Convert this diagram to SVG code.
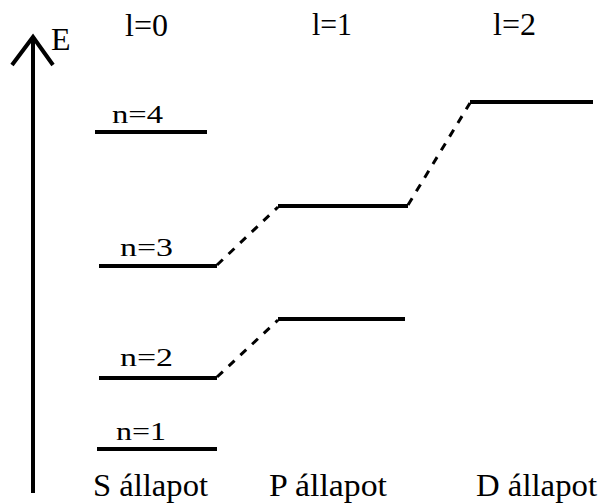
<svg xmlns="http://www.w3.org/2000/svg" width="600" height="504" viewBox="0 0 600 504">
<rect width="600" height="504" fill="#fff"/>
<g stroke="#000" fill="none">
<g id="axis">
<line stroke-width="4" x1="33" y1="493" x2="33" y2="38"/>
<polyline stroke-width="4" points="12,65 33,37 53,65"/>
<text stroke="none" fill="#000" font-family="Liberation Serif" font-size="32" x="51" y="50">E</text>
</g>
<g id="headers" stroke="none" fill="#000" font-family="Liberation Serif" font-size="32">
<text x="125" y="36" textLength="43" lengthAdjust="spacingAndGlyphs">l=0</text>
<text x="312" y="35" textLength="40" lengthAdjust="spacingAndGlyphs">l=1</text>
<text x="493" y="35" textLength="43" lengthAdjust="spacingAndGlyphs">l=2</text>
</g>
<g id="S-n4">
<line stroke-width="4" x1="95" y1="132" x2="207" y2="132"/>
<text stroke="none" fill="#000" font-family="Liberation Serif" font-size="25" x="112" y="123" textLength="51" lengthAdjust="spacingAndGlyphs">n=4</text>
</g>
<g id="S-n3">
<line stroke-width="4" x1="99" y1="266" x2="217" y2="266"/>
<text stroke="none" fill="#000" font-family="Liberation Serif" font-size="25" x="120" y="256" textLength="53" lengthAdjust="spacingAndGlyphs">n=3</text>
</g>
<g id="S-n2">
<line stroke-width="4" x1="99" y1="378" x2="217" y2="378"/>
<text stroke="none" fill="#000" font-family="Liberation Serif" font-size="25" x="120" y="366" textLength="53" lengthAdjust="spacingAndGlyphs">n=2</text>
</g>
<g id="S-n1">
<line stroke-width="4" x1="97" y1="449" x2="217" y2="449"/>
<text stroke="none" fill="#000" font-family="Liberation Serif" font-size="25" x="116" y="440" textLength="50" lengthAdjust="spacingAndGlyphs">n=1</text>
</g>
<g id="P-n3">
<line stroke-width="4" x1="278" y1="206" x2="408" y2="206"/>
</g>
<g id="P-n2">
<line stroke-width="4" x1="278" y1="319" x2="405" y2="319"/>
</g>
<g id="D-n3">
<line stroke-width="4" x1="470" y1="102" x2="593" y2="102"/>
</g>
<g id="connectors" stroke-width="3" stroke-dasharray="8 8">
<line x1="217" y1="265" x2="278" y2="207"/>
<line x1="217" y1="377" x2="278" y2="320"/>
<line x1="408" y1="205" x2="470" y2="103"/>
</g>
<g id="footer" stroke="none" fill="#000" font-family="Liberation Serif" font-size="32">
<text x="93" y="496" textLength="115" lengthAdjust="spacingAndGlyphs">S állapot</text>
<text x="269" y="496" textLength="118" lengthAdjust="spacingAndGlyphs">P állapot</text>
<text x="476" y="496" textLength="121" lengthAdjust="spacingAndGlyphs">D állapot</text>
</g>
</g>
</svg>
